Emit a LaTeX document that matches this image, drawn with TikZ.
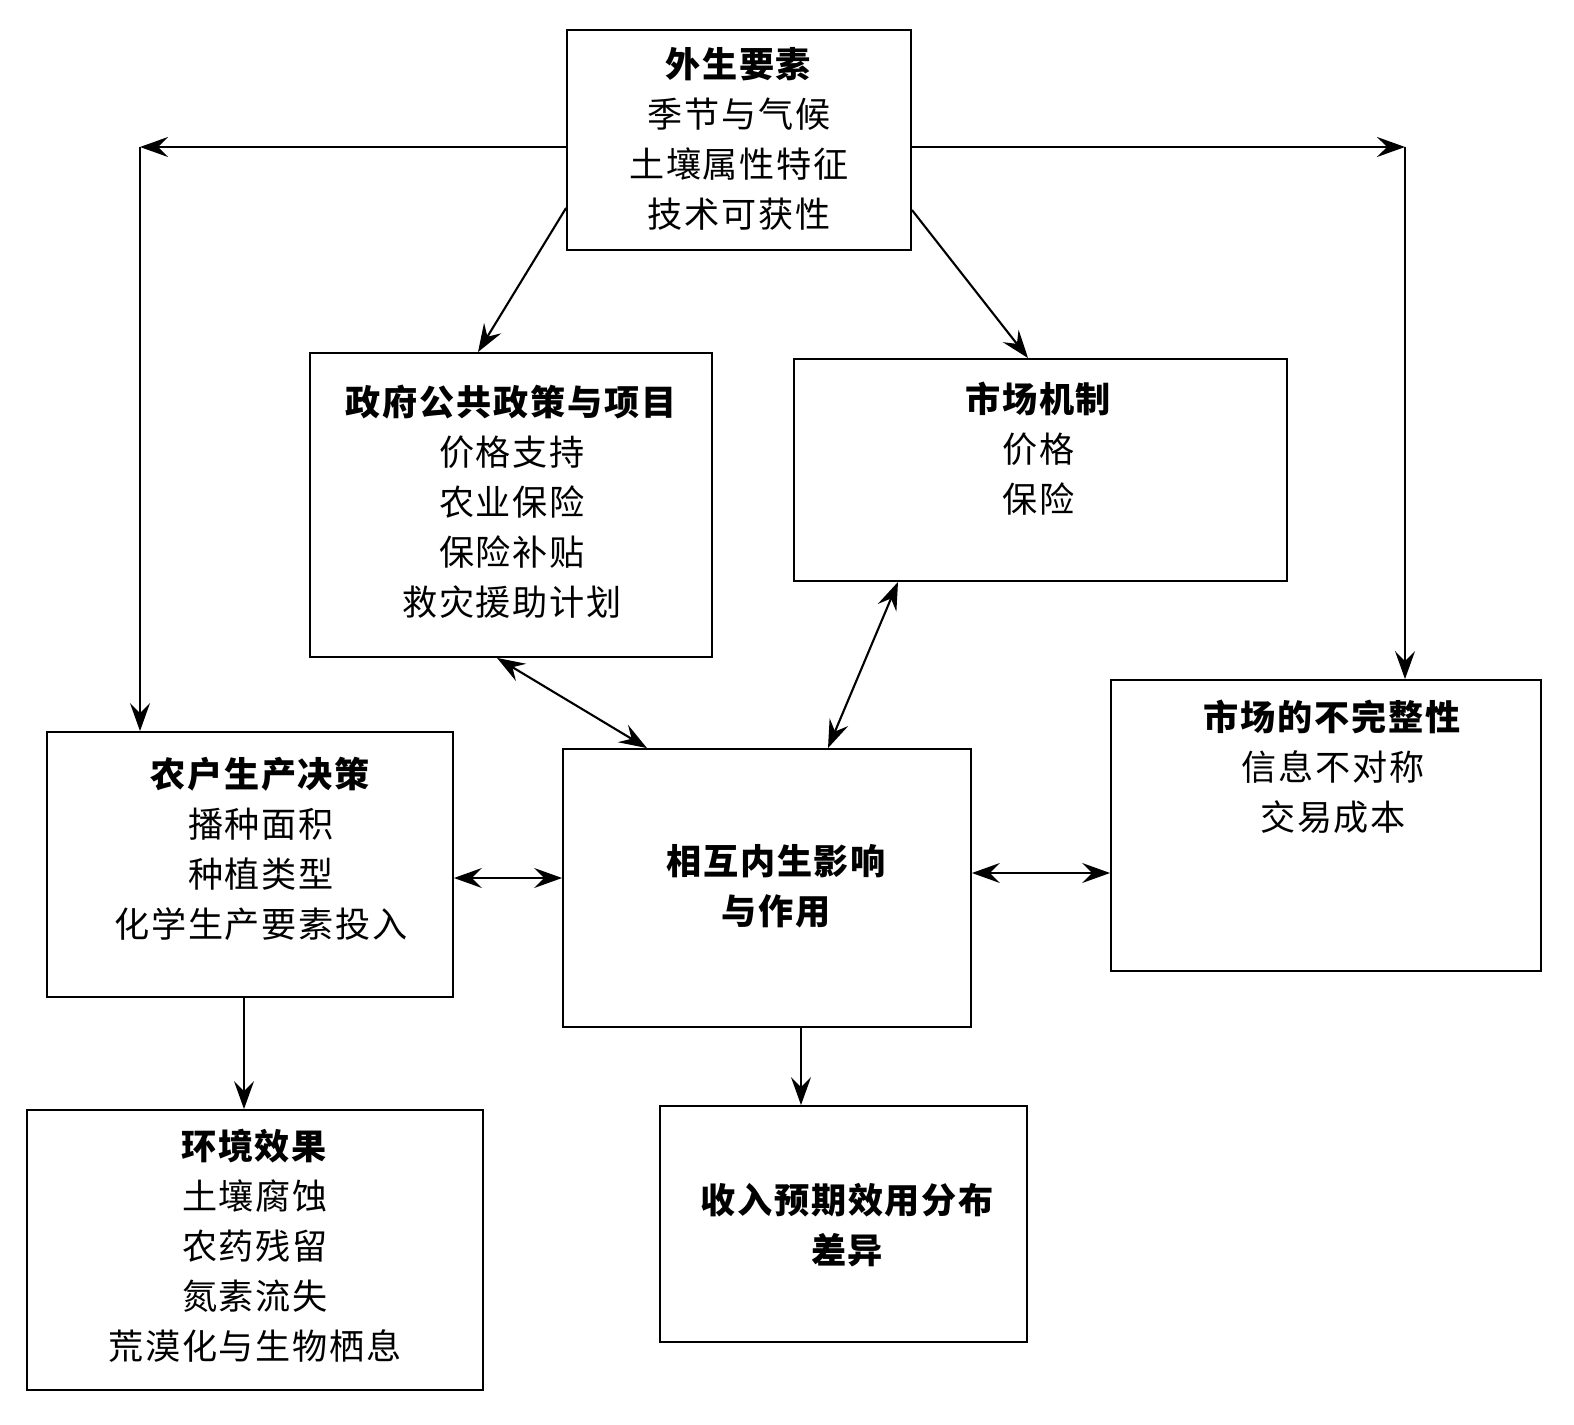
\documentclass[tikz,border=0pt]{standalone}
\usepackage{fontspec}
\setmainfont{Noto Sans CJK SC}[LetterSpace=5]
\usetikzlibrary{arrows.meta, positioning, calc}

\begin{document}
\begin{tikzpicture}[x=0.02cm, y=-0.02cm,
    box/.style={rectangle, draw, line width=1.1pt, inner sep=0pt},
    txt/.style={align=center, inner sep=0pt, font=\fontsize{20}{28.45}\selectfont},
    link/.style={-{Stealth[length=5.6mm, width=4mm, inset=2mm]}, line width=1.2pt},
    both/.style={{Stealth[length=5.6mm, width=4mm, inset=2mm]}-{Stealth[length=5.6mm, width=4mm, inset=2mm]}, line width=1.2pt}
]
    \fill[white] (0,0) rectangle (1574,1425);

    % boxes
    \node[box, minimum width=6.88cm, minimum height=4.4cm]  (ext) at (739,140) {};
    \node[box, minimum width=8.04cm, minimum height=6.08cm] (gov) at (511,505) {};
    \node[box, minimum width=9.86cm, minimum height=4.44cm] (mkt) at (1040.5,470) {};
    \node[box, minimum width=8.6cm,  minimum height=5.82cm] (imp) at (1326,825.5) {};
    \node[box, minimum width=8.12cm, minimum height=5.3cm]  (fam) at (250,864.5) {};
    \node[box, minimum width=8.16cm, minimum height=5.56cm] (mid) at (767,888) {};
    \node[box, minimum width=9.12cm, minimum height=5.6cm]  (env) at (255,1250) {};
    \node[box, minimum width=7.34cm, minimum height=4.72cm] (inc) at (843.5,1224) {};

    % texts
    \node[txt] (ext-t) at (739,139) {\textbf{外生要素}\\季节与气候\\土壤属性特征\\技术可获性};
    \node[txt] (gov-t) at (512,502) {\textbf{政府公共政策与项目}\\价格支持\\农业保险\\保险补贴\\救灾援助计划};
    \node[txt] (mkt-t) at (1039,449) {\textbf{市场机制}\\价格\\保险};
    \node[txt] (imp-t) at (1333,767) {\textbf{市场的不完整性}\\信息不对称\\交易成本};
    \node[txt] (fam-t) at (261,849) {\textbf{农户生产决策}\\播种面积\\种植类型\\化学生产要素投入};
    \node[txt] (mid-t) at (777,886.5) {\textbf{相互内生影响}\\\textbf{与作用}};
    \node[txt] (env-t) at (255,1246) {\textbf{环境效果}\\土壤腐蚀\\农药残留\\氮素流失\\荒漠化与生物栖息};
    \node[txt] (inc-t) at (848,1225.5) {\textbf{收入预期效用分布}\\\textbf{差异}};

    % connectors
    \coordinate (tl) at (140,147);
    \coordinate (tr) at (1405,147);
    \draw[link] (ext.west |- tl) -- (tl);
    \draw[link] (tl) -- (tl |- fam.north);
    \draw[link] (ext.east |- tr) -- (tr);
    \draw[link] (tr) -- (tr |- imp.north);
    \draw[link] (ext.west |- 0,208) -- (gov.north -| 478,0);
    \draw[link] (ext.east |- 0,210) -- (mkt.north -| 1028,0);
    \draw[both] (gov.south -| 497,0) -- (mid.north -| 647,0);
    \draw[both] (mkt.south -| 898,0) -- (mid.north -| 828,0);
    \draw[both] (fam.east |- 0,878) -- (mid.west |- 0,878);
    \draw[both] (mid.east |- 0,873) -- (imp.west |- 0,873);
    \draw[link] (fam.south -| 244,0) -- (env.north -| 244,0);
    \draw[link] (mid.south -| 801,0) -- (inc.north -| 801,0);
\end{tikzpicture}
\end{document}
